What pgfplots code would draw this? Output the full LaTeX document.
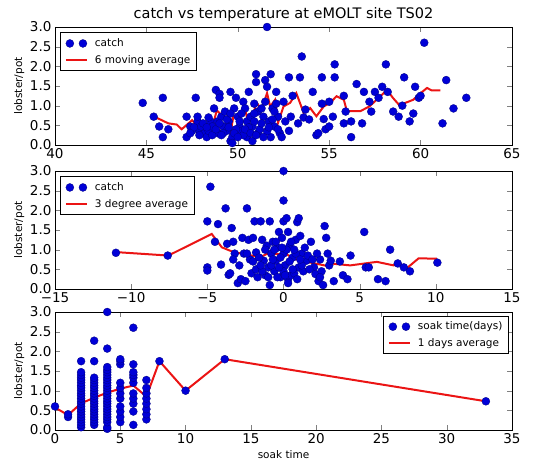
\documentclass[border=0pt]{standalone}
\usepackage{fontspec}
\setmainfont{DejaVu Sans}
\usepackage{pgfplots}
\pgfplotsset{compat=1.18}

\definecolor{dotblue}{RGB}{0,0,215}
\definecolor{avgred}{RGB}{235,20,20}

\pgfplotsset{
  panel/.style={
    scale only axis, width=457pt, height=118pt,
    ymin=0, ymax=3, ytick={0,0.5,...,3},
    yticklabel style={/pgf/number format/.cd, fixed, fixed zerofill, precision=1},
    /pgf/number format/assume math mode=true,
    tick label style={font=\fontsize{13.5}{14}\selectfont},
    ylabel={lobster/pot},
    ylabel style={at={(axis description cs:-0.078,0.5)}, anchor=center, font=\fontsize{10.5}{11}\selectfont},
    legend style={font=\fontsize{10.5}{12}\selectfont, draw=black, line width=0.8pt,
                  row sep=3pt, column sep=5pt, inner xsep=4pt, inner ysep=4pt},
    legend cell align=left,
    axis line style={line width=0.8pt},
    major tick length=5pt,
  },
  dots/.style={only marks, mark=*, mark size=4pt,
    mark options={fill=dotblue, draw=dotblue!60!black, line width=0.3pt},
    legend image code/.code={\draw[##1] plot coordinates {(0.14cm,0cm)(0.6cm,0cm)};}},
  avg/.style={avgred, line width=2pt, no marks,
    legend image code/.code={\draw[##1] (0cm,0cm) -- (0.74cm,0cm);}},
}

\begin{document}
\begin{tikzpicture}
\useasboundingbox (0,0) rectangle (552pt,-470pt);

% ---- catch vs temperature
\begin{axis}[panel, at={(55pt,-145pt)}, anchor=south west,
  xmin=40, xmax=65, xtick={40,45,...,65},
  title={catch vs temperature at eMOLT site TS02},
  title style={font=\fontsize{14.5}{15}\selectfont, yshift=-4pt},
  legend style={at={(0.012,0.955)}, anchor=north west}]
\addplot[dots] coordinates {
(44.8,1.07)(45.4,0.72)(45.7,0.47)(45.9,1.20)(45.9,0.20)(46.2,0.40)(47.2,0.20)(47.2,0.72)
(47.4,0.47)(47.5,0.36)(47.7,1.20)(47.8,0.60)(47.8,0.72)(47.9,0.36)(48.0,0.47)(48.2,0.30)
(48.3,0.20)(48.4,0.36)(48.5,0.60)(48.6,0.47)(48.7,0.93)(48.8,1.40)(48.9,0.30)(48.9,0.60)
(49.0,1.30)(49.0,1.20)(49.1,0.72)(49.2,0.47)(49.3,0.85)(49.4,0.36)(49.5,0.60)(49.6,1.35)
(49.6,0.10)(49.7,0.20)(49.7,0.05)(49.8,0.93)(49.9,1.20)(50.0,0.72)(50.1,0.47)(50.2,0.36)
(50.3,1.10)(50.4,0.93)(50.5,0.60)(50.5,0.20)(50.6,1.35)(50.7,0.72)(50.8,0.47)(50.8,0.10)
(50.9,1.05)(50.9,0.60)(51.0,1.80)(51.0,1.60)(51.1,0.85)(51.1,0.30)(51.2,0.40)(51.3,0.93)
(51.4,0.72)(51.5,1.65)(51.5,1.10)(51.6,1.48)(51.6,3.00)(51.7,0.60)(51.8,0.20)(51.8,1.80)
(51.9,0.93)(52.0,0.47)(52.1,1.35)(52.1,1.05)(52.2,0.72)(52.3,0.30)(52.4,0.20)(52.5,1.10)
(52.6,0.60)(52.8,1.72)(52.8,0.36)(52.9,0.72)(53.0,1.25)(53.3,0.55)(53.4,1.72)(53.5,2.25)
(53.6,0.70)(53.7,0.90)(53.9,0.65)(54.1,1.35)(54.3,0.25)(54.4,0.30)(54.6,1.72)(54.6,1.05)
(54.7,0.66)(54.8,0.40)(55.0,0.47)(55.0,1.10)(55.2,0.72)(55.3,2.05)(55.3,1.72)(55.8,1.25)
(55.8,0.55)(55.9,0.85)(56.2,0.60)(56.2,0.20)(56.5,1.55)(56.8,0.55)(56.9,1.35)(57.2,1.10)
(57.3,0.85)(57.5,1.35)(57.7,1.20)(57.9,1.48)(58.1,2.05)(58.2,1.35)(58.5,0.85)(58.8,0.72)
(59.0,1.00)(59.1,1.72)(59.4,0.60)(59.6,0.80)(59.7,1.48)(59.9,1.20)(60.0,1.25)(60.2,2.60)
(61.2,0.55)(61.4,1.65)(61.8,0.93)(62.5,1.20)
(48.1,0.55)(48.6,0.25)(49.2,0.30)(49.9,0.40)(50.3,0.25)(50.6,0.45)(51.3,0.55)(51.6,0.35)
(52.0,0.85)(50.2,0.80)(49.4,0.65)(47.6,0.45)(47.4,0.30)(47.9,0.25)(48.3,0.45)(48.8,0.40)
(49.1,0.25)(49.5,0.45)(49.8,0.30)(50.0,0.20)(50.4,0.40)(50.7,0.30)(51.0,0.25)(51.4,0.20)
(51.7,0.45)(52.2,0.40)(50.1,0.60)(49.0,0.55)(48.4,0.70)(51.9,0.65)(50.9,0.80)(49.6,0.80)
};
\addlegendentry{catch}
\addplot[avg] coordinates {
(45.57,0.69)(46.2,0.55)(46.66,0.52)(46.93,0.40)(47.5,0.63)(47.75,0.50)(48.0,0.38)(48.4,0.44)
(48.67,0.56)(48.85,0.88)(49.1,0.77)(49.4,0.86)(49.6,0.31)(49.76,0.73)(50.13,0.73)(50.4,0.90)
(50.58,0.55)(50.86,0.82)(51.04,1.07)(51.3,0.90)(51.6,1.32)(51.77,0.98)(52.04,1.15)(52.2,0.56)
(52.5,0.98)(52.86,1.07)(53.2,1.32)(53.6,0.82)(53.96,0.94)(54.3,0.73)(54.7,0.98)(55.05,1.07)
(55.4,1.24)(55.8,1.15)(55.97,0.86)(56.7,0.86)(57.2,0.98)(57.8,1.24)(58.16,1.40)(58.5,1.19)
(58.9,0.98)(59.16,1.07)(59.6,1.15)(59.9,1.28)(60.35,1.45)(60.6,1.39)(61.08,1.39)
};
\addlegendentry{6 moving average}
\end{axis}

% ---- catch vs temperature anomaly
\begin{axis}[panel, at={(55pt,-289pt)}, anchor=south west,
  xmin=-15, xmax=15, xtick={-15,-10,...,15},
  xticklabels={−15,−10,−5,0,5,10,15},
  legend style={at={(0.012,0.955)}, anchor=north west}]
\addplot[dots] coordinates {
(-11.0,0.92)(-7.6,0.85)(-5,1.72)(-5,0.55)(-5,0.47)(-4.8,2.6)(-4.5,1.2)(-4.3,1.65)(-4.1,0.62)
(-3.8,2.05)(-3.7,1.15)(-3.6,0.36)(-3.5,0.4)(-3.4,1.55)(-3.3,1.2)(-3.2,0.9)(-3,0.15)(-2.9,0.6)
(-2.8,0.25)(-2.7,1.3)(-2.6,0.9)(-2.5,0.2)(-2.4,2.05)(-2.3,1.25)(-2.2,0.75)(-2.1,0.4)(-2,0.7)
(-1.9,1.72)(-1.8,0.93)(-1.7,0.3)(-1.5,1.72)(-1.4,1.25)(-1.3,0.72)(-1.2,0.35)(-1.1,1.1)(-1.0,0.55)
(-0.9,0.1)(-0.9,1.72)(-0.8,0.9)(-0.7,1.2)(-0.6,0.45)(-0.5,0.72)(-0.4,1.05)(-0.3,1.45)(-0.2,0.3)
(-0.1,1.3)(0,3.0)(0,2.25)(0,1.72)(0,0.9)(0.1,0.6)(0.2,1.8)(0.3,1.45)(0.3,0.25)(0.4,1.1)(0.5,0.35)
(0.6,0.8)(0.7,0.4)(0.8,1.25)(0.9,1.7)(1.0,1.8)(1.0,0.55)(1.1,1.35)(1.2,0.9)(1.3,0.45)(1.5,0.72)
(1.6,0.85)(1.8,1.2)(2.0,0.55)(2.1,0.38)(2.3,0.2)(2.4,0.75)(2.5,0.45)(2.6,0.1)(2.7,1.6)(2.8,1.3)
(2.9,0.9)(3.0,0.6)(3.1,0.72)(3.3,0.2)(3.7,0.7)(3.9,0.35)(4.2,0.25)(4.4,0.85)(5.3,1.45)(5.4,0.55)
(5.6,0.55)(6.2,0.25)(6.7,0.2)(7.0,1.0)(7.5,0.65)(7.9,0.55)(8.3,0.45)(10.1,0.67)
(-1.8,0.5)(-1.6,0.8)(-1.2,1.0)(-0.8,0.6)(-0.6,1.0)(-0.4,0.3)(-0.2,0.8)(0.2,1.0)(0.4,0.7)(0.6,0.5)
(0.8,0.9)(1.2,0.6)(1.4,1.05)(-0.5,1.2)(0.0,0.45)(0.9,0.25)(1.7,0.5)(2.2,0.9)(2.4,0.3)(-2.4,0.9)
(-3.3,0.75)(-2.0,1.3)(-1.0,0.3)(0.3,0.15)(-0.7,0.75)(-0.3,0.55)(0.1,0.35)(0.5,1.2)(-1.4,0.45)
(1.1,0.75)(1.9,0.75)(-0.1,1.05)(-1.5,0.6)(0.7,1.0)
};
\addlegendentry{catch}
\addplot[avg] coordinates {
(-11.06,0.94)(-7.56,0.85)(-4.71,1.40)(-4.05,1.06)(-3.29,0.94)(-1.53,0.81)(-1.1,0.89)(0.22,0.88)
(0.66,0.77)(1.53,0.69)(2.95,0.58)(3.07,0.65)(4.38,0.60)(6.13,0.69)(7.23,0.60)(7.45,0.69)
(8.1,0.53)(8.87,0.78)(10.07,0.77)
};
\addlegendentry{3 degree average}
\end{axis}

% ---- catch vs soak time
\begin{axis}[panel, at={(55pt,-430pt)}, anchor=south west,
  xmin=0, xmax=35, xtick={0,5,...,35},
  xlabel={soak time},
  xlabel style={font=\fontsize{10.5}{11}\selectfont},
  legend style={at={(0.993,0.97)}, anchor=north east}]
\addplot[dots] coordinates {
(0,0.6)(1,0.33)(1,0.4)
(2,0.07)(2,0.13)(2,0.2)(2,0.27)(2,0.33)(2,0.4)(2,0.47)(2,0.53)(2,0.6)(2,0.67)(2,0.73)(2,0.8)
(2,0.87)(2,0.93)(2,1.0)(2,1.07)(2,1.13)(2,1.2)(2,1.27)(2,1.33)(2,1.4)(2,1.47)(2,1.75)
(3,0.13)(3,0.2)(3,0.27)(3,0.33)(3,0.4)(3,0.47)(3,0.53)(3,0.6)(3,0.67)(3,0.73)(3,0.8)(3,0.87)
(3,0.93)(3,1.0)(3,1.07)(3,1.13)(3,1.2)(3,1.27)(3,1.33)(3,1.75)(3,2.27)
(4,0.03)(4,0.07)(4,0.2)(4,0.27)(4,0.33)(4,0.4)(4,0.47)(4,0.53)(4,0.6)(4,0.67)(4,0.73)(4,0.8)
(4,0.87)(4,0.93)(4,1.0)(4,1.07)(4,1.13)(4,1.2)(4,1.27)(4,1.33)(4,1.4)(4,1.47)(4,1.53)(4,1.6)
(4,2.07)(4,3.0)
(5,0.2)(5,0.33)(5,0.47)(5,0.6)(5,0.8)(5,0.93)(5,1.07)(5,1.2)(5,1.67)(5,1.75)(5,1.8)
(6,0.13)(6,0.47)(6,0.67)(6,0.8)(6,0.93)(6,1.2)(6,1.33)(6,1.4)(6,1.47)(6,1.67)(6,2.6)
(7,0.27)(7,0.4)(7,0.53)(7,0.67)(7,0.8)(7,0.93)(7,1.07)(7,1.27)
(8,1.75)(10,1.0)(13,1.8)(33,0.73)
};
\addlegendentry{soak time(days)}
\addplot[avg] coordinates {
(0,0.57)(1,0.38)(2,0.68)(3,0.82)(4,0.95)(5,1.05)(6,1.13)(7,0.85)(8,1.75)(10,1.0)(13,1.8)(33,0.73)
};
\addlegendentry{1 days average}
\end{axis}
\end{tikzpicture}
\end{document}
